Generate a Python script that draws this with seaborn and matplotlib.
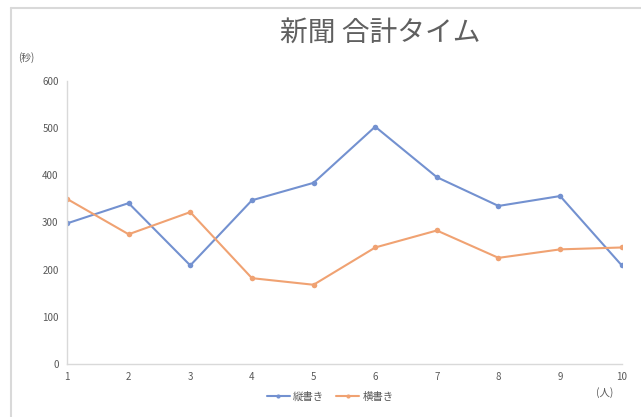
import matplotlib
matplotlib.use("Agg")
import matplotlib.pyplot as plt
import seaborn as sns
import pandas as pd
from matplotlib.lines import Line2D

people = [1, 2, 3, 4, 5, 6, 7, 8, 9, 10]
tategaki = [298, 341, 209, 347, 384, 503, 396, 335, 356, 209]
yokogaki = [350, 275, 322, 182, 168, 247, 283, 225, 243, 247]
series_names = ["縦書き", "横書き"]
yticks = [0, 100, 200, 300, 400, 500, 600]

sns.set_theme(style="white")
plt.rcParams['font.family'] = ['Noto Sans CJK JP', 'DejaVu Sans']

df = pd.DataFrame({
    "人": people * 2,
    "秒": tategaki + yokogaki,
    "系列": [series_names[0]] * len(people) + [series_names[1]] * len(people),
})

fig = plt.figure(figsize=(6.41, 4.17), dpi=100)
ax = fig.add_axes([0.1045, 0.127, 0.8655, 0.679])

palette = {series_names[0]: "#7391d0", series_names[1]: "#f0a272"}
sns.lineplot(data=df, x="人", y="秒", hue="系列", palette=palette, marker="o",
             markersize=4, markeredgewidth=0, linewidth=1.5, ax=ax, legend=False)

ax.set_xlim(1, 10)
ax.set_ylim(0, 600)
ax.set_xticks(people)
ax.set_yticks(yticks)
ax.tick_params(axis="both", labelsize=7, colors="#595959", length=0, pad=6)
ax.set_xlabel("")
ax.set_ylabel("")
for side in ["top", "right"]:
    ax.spines[side].set_visible(False)
for side in ["left", "bottom"]:
    ax.spines[side].set_color("#d9d9d9")
    ax.spines[side].set_linewidth(1.0)

fig.text(380 / 641, 1 - 33 / 417, "新聞 合計タイム", ha="center", va="center",
         fontsize=20, color="#606060")
fig.text(26 / 641, 1 - 58 / 417, "(秒)", ha="center", va="center", fontsize=7, color="#595959")
fig.text(605 / 641, 1 - 393 / 417, "(人)", ha="center", va="center", fontsize=7.5, color="#595959")

handles = [Line2D([], [], color=palette[n], marker="o", markersize=3, markeredgewidth=0, linewidth=1.5)
           for n in series_names]
fig.legend(handles, series_names, loc="center", bbox_to_anchor=(330 / 641, 1 - 397 / 417),
           ncol=2, frameon=False, fontsize=7.5, labelcolor="#595959", handlelength=2.2,
           columnspacing=1.2, handletextpad=0.3)

fig.add_artist(Line2D([10.5 / 641, 10.5 / 641], [0, 1 - 7.5 / 417], color="#d9d9d9", linewidth=1.5))
fig.add_artist(Line2D([10.5 / 641, 1], [1 - 7.5 / 417, 1 - 7.5 / 417], color="#d9d9d9", linewidth=1.5))

fig.savefig("out.png", dpi=100)
